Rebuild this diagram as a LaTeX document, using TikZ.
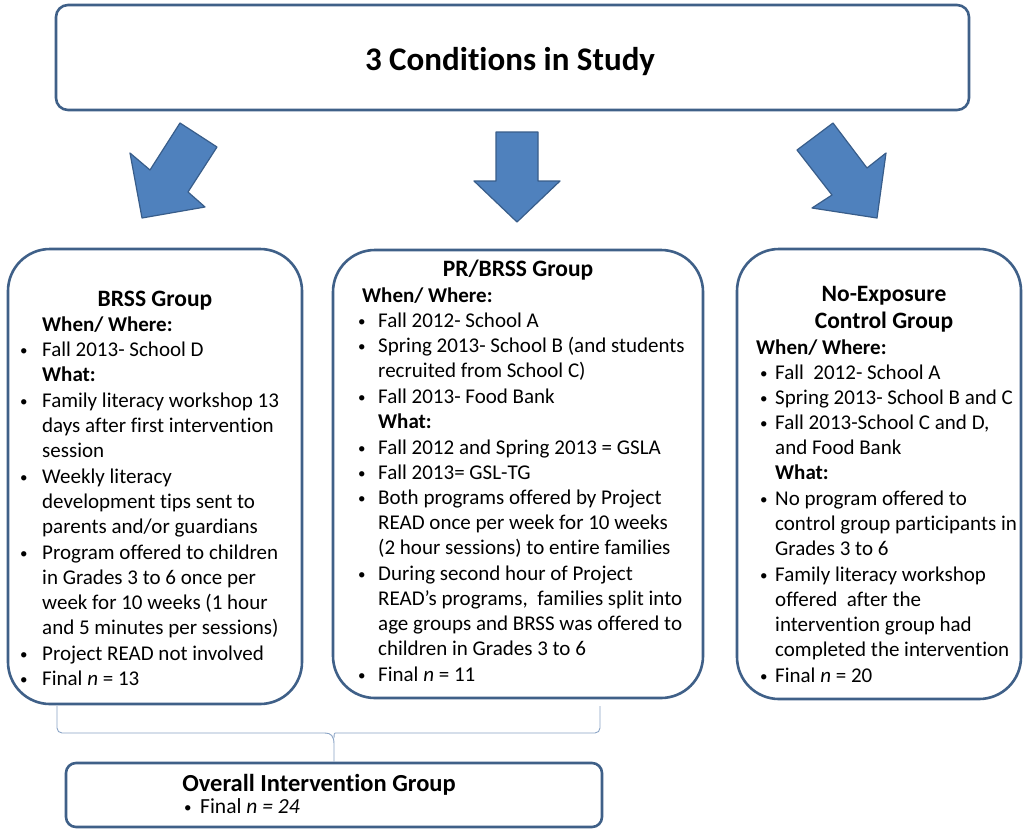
\documentclass[tikz,border=0pt]{standalone}
\usepackage{fontspec}
\setmainfont{Carlito}[Ligatures=NoCommon]
\definecolor{boxline}{HTML}{3F6088}
\definecolor{arrowfill}{HTML}{4F81BD}
\definecolor{arrowline}{HTML}{385D8A}
\definecolor{braceline}{HTML}{8AA4C6}
% bullet and indent for the hand broken lists
\newcommand{\bul}[2][0]{\hspace*{#1pt}\makebox[#2pt][l]{\raisebox{1pt}{\fontsize{15}{15}\selectfont\textbullet}}}
\newcommand{\ind}[1]{\hspace*{#1pt}}
\begin{document}
\begin{tikzpicture}[x=1pt,y=-1pt,
  grpbox/.style={draw=boxline,line width=2.6pt,rounded corners=42pt,fill=white},
  flatbox/.style={draw=boxline,line width=2.6pt,rounded corners=12pt,fill=white},
  blockarrow/.style={fill=arrowfill,draw=arrowline,line width=1.2pt,line join=round},
  bracket/.style={draw=braceline,line width=0.9pt},
  body/.style={font=\fontsize{21}{25}\selectfont,align=left,anchor=north west,inner sep=0pt},
  grptitle/.style={font=\fontsize{23.5}{27}\selectfont\bfseries,align=center,anchor=base,inner sep=0pt}]
\useasboundingbox[fill=white] (0,0) rectangle (1024,833);

\node[flatbox,minimum width=913pt,minimum height=105pt] (study) at (512.5,57.5) {};
\node[anchor=base,inner sep=0pt,font=\fontsize{33}{38}\selectfont\bfseries] (studyttl) at (510,70.5) {3 Conditions in Study};

% block arrows
\draw[blockarrow] (180,123)--(217,147)--(188,192)--(205,207)--(142,218)--(130,153)--(150,170)--cycle;
\draw[blockarrow] (496,132)--(538,132)--(538,181)--(560,181)--(517,222)--(474,181)--(496,181)--cycle;
\draw[blockarrow] (833,123)--(867,168)--(886,153)--(877,218)--(812,208)--(832,195)--(797,150)--cycle;

% the three groups
\node[grpbox,minimum width=294pt,minimum height=455pt] (brss) at (155,476.5) {};
\node[grpbox,minimum width=370pt,minimum height=448pt] (prbrss) at (518,474) {};
\node[grpbox,minimum width=284pt,minimum height=450pt] (control) at (879,474) {};

\node[grptitle] (brssttl) at (155,306) {BRSS Group};
\node[body] (brsstxt) at (20,317) {%
\ind{22}\textbf{When/ Where:}\\
\bul{22}Fall 2013- School D\\
\ind{22}\textbf{What:}\\[1pt]
\bul{22}Family literacy workshop 13\\
\ind{22}days after first intervention\\
\ind{22}session\\[1pt]
\bul{22}Weekly literacy\\
\ind{22}development tips sent to\\
\ind{22}parents and/or guardians\\[1pt]
\bul{22}Program offered to children\\
\ind{22}in Grades 3 to 6 once per\\
\ind{22}week for 10 weeks (1 hour\\
\ind{22}and 5 minutes per sessions)\\[1pt]
\bul{22}Project READ not involved\\
\bul{22}Final \textit{n} = 13};

\node[grptitle] (prbrssttl) at (518,276) {PR/BRSS Group};
\node[body] (prbrsstxt) at (357,288) {%
\ind{5}\textbf{When/ Where:}\\
\bul[1]{20}Fall 2012- School A\\
\bul[1]{20}Spring 2013- School B (and students\\
\ind{21}recruited from School C)\\[1pt]
\bul[1]{20}Fall 2013- Food Bank\\
\ind{21}\textbf{What:}\\[1pt]
\bul[1]{20}Fall 2012 and Spring 2013 = GSLA\\
\bul[1]{20}Fall 2013= GSL-TG\\
\bul[1]{20}Both programs offered by Project\\
\ind{21}READ once per week for 10 weeks\\
\ind{21}(2 hour sessions) to entire families\\[1pt]
\bul[1]{20}During second hour of Project\\
\ind{21}READ’s programs,\ \ families split into\\
\ind{21}age groups and BRSS was offered to\\
\ind{21}children in Grades 3 to 6\\[1pt]
\bul[1]{20}Final \textit{n} = 11};

\node[grptitle] (controlttl) at (884,328) {No-Exposure\\Control Group};
\node[body] (controltxt) at (756,340) {%
\textbf{When/ Where:}\\
\bul[4]{15}Fall\ \ 2012- School A\\
\bul[4]{15}Spring 2013- School B and C\\
\bul[4]{15}Fall 2013-School C and D,\\
\ind{19}and Food Bank\\
\ind{19}\textbf{What:}\\[1pt]
\bul[4]{15}No program offered to\\
\ind{19}control group participants in\\
\ind{19}Grades 3 to 6\\[1pt]
\bul[4]{15}Family literacy workshop\\
\ind{19}offered\ \ after the\\
\ind{19}intervention group had\\
\ind{19}completed the intervention\\[1pt]
\bul[4]{15}Final \textit{n} = 20};

% overall intervention group
\node[flatbox,rounded corners=10pt,minimum width=536pt,minimum height=64pt] (overall) at (334,795) {};
\node[anchor=base,inner sep=0pt,font=\fontsize{24.5}{28}\selectfont\bfseries] (overallttl) at (319,791) {Overall Intervention Group};
\node[anchor=base west,inner sep=0pt,font=\fontsize{21.5}{24}\selectfont] (overalltxt) at (184,813) {\bul{16}Final \textit{n = 24}};

% bracket joining the two intervention groups
\draw[bracket,rounded corners=5pt] (57,706) |- (325,733);
\draw[bracket,rounded corners=5pt] (600,706) |- (335,733);
\draw[bracket] (325,733) .. controls (331,733) and (334,736) .. (334,744) -- (overall.north);
\draw[bracket] (335,733) .. controls (334.5,733) and (334,734) .. (334,738);
\end{tikzpicture}
\end{document}
